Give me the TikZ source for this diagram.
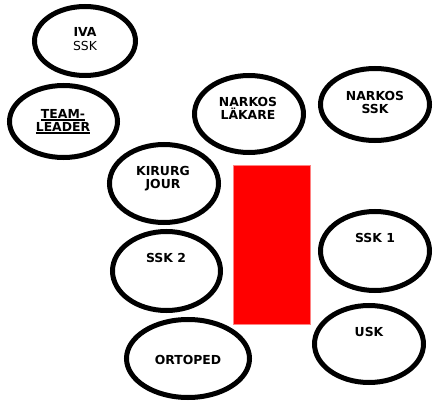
\documentclass[tikz,border=0pt]{standalone}
\usepackage{fontspec}
\setmainfont{DejaVu Sans}
\usepackage{xcolor}
\usepackage{tikz}
\usetikzlibrary{shapes.geometric}
\definecolor{bedred}{RGB}{255,0,0}
\definecolor{bededge}{RGB}{255,130,130}
\tikzstyle{ring} = [ellipse, draw, line width=5pt, inner sep=0pt]
\tikzstyle{role} = [anchor=base, align=center, inner sep=0pt, font=\bfseries\fontsize{12.4}{13.4}\selectfont]
\newcommand{\ulline}[1]{\setbox0\hbox{#1}\rlap{\rule[-2.4pt]{\wd0}{1.7pt}}\box0}

\begin{document}
\begin{tikzpicture}[x=1pt, y=-1pt]
\useasboundingbox (0,0) rectangle (437,401);
% staff around the table
\node(IVA)[ring, minimum width=101pt, minimum height=69pt] at (85,41) {};
\node(TL)[ring, minimum width=108pt, minimum height=72pt] at (63.5,121.5) {};
\node(NL)[ring, minimum width=109pt, minimum height=77pt] at (249,114) {};
\node(NS)[ring, minimum width=109pt, minimum height=72pt] at (375,104.5) {};
\node(KJ)[ring, minimum width=109pt, minimum height=78pt] at (164,183.5) {};
\node(S2)[ring, minimum width=108pt, minimum height=79pt] at (166.5,271) {};
\node(S1)[ring, minimum width=109pt, minimum height=79pt] at (375,251) {};
\node(OR)[ring, minimum width=123pt, minimum height=78pt] at (188,358.5) {};
\node(US)[ring, minimum width=109pt, minimum height=77pt] at (369,344) {};
% operating table
\node(BED)[fill=bedred, draw=bededge, line width=0.8pt, minimum width=77pt, minimum height=159pt, inner sep=0pt] at (271.5,244.5) {};
% labels (base = last line)
\node(IVAt)[role] at (85,50.4) {IVA\\{\mdseries SSK}};
\node(TLt)[role] at (63,131.7) {\ulline{TEAM-}\\\ulline{LEADER}};
\node(NLt)[role] at (248,120) {NARKOS\\LÄKARE};
\node(NSt)[role] at (375,113.5) {NARKOS\\SSK};
\node(KJt)[role] at (163,188.5) {KIRURG\\JOUR};
\node(S2t)[role] at (166,263) {SSK 2};
\node(S1t)[role] at (375,243) {SSK 1};
\node(ORt)[role] at (188,364) {ORTOPED};
\node(USt)[role] at (369,336) {USK};
\end{tikzpicture}
\end{document}
